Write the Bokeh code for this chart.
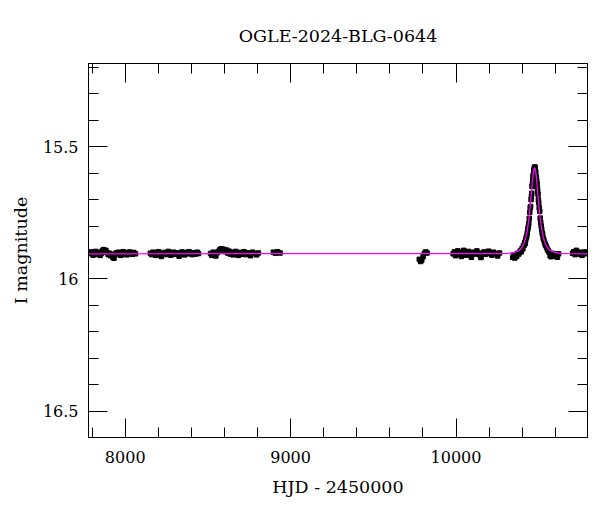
import numpy as np
from bokeh.plotting import figure
from bokeh.models import Range1d, LinearAxis, SingleIntervalTicker, CustomJSTickFormatter
from bokeh.embed import file_html
from bokeh.resources import INLINE

TITLE = "OGLE-2024-BLG-0644"
XLABEL = "HJD - 2450000"
YLABEL = "I magnitude"

# ---- observed photometry, by season (HJD-2450000, I mag) ----
t17 = [7785, 7792, 7799, 7806, 7813, 7820, 7827, 7834, 7841, 7848, 7855, 7862, 7869,
       7876, 7883, 7890, 7897, 7904, 7911, 7918, 7925, 7932, 7939, 7946, 7953, 7960,
       7967, 7974, 7981, 7988, 7995, 8002, 8010, 8018, 8026, 8034, 8043, 8052, 8062]
m17 = [15.902, 15.898, 15.905, 15.910, 15.900, 15.896, 15.907, 15.903, 15.899, 15.911,
       15.904, 15.893, 15.889, 15.897, 15.892, 15.901, 15.908, 15.903, 15.912, 15.906,
       15.918, 15.922, 15.909, 15.902, 15.906, 15.899, 15.904, 15.911, 15.903, 15.897,
       15.905, 15.901, 15.909, 15.904, 15.898, 15.902, 15.907, 15.900, 15.905]

t18 = [8152, 8160, 8168, 8176, 8185, 8193, 8201, 8210, 8218, 8226, 8235, 8243, 8251,
       8260, 8268, 8276, 8285, 8293, 8301, 8310, 8318, 8326, 8335, 8343, 8351, 8360,
       8368, 8377, 8386, 8395, 8405, 8415, 8425, 8435, 8443]
m18 = [15.903, 15.908, 15.899, 15.905, 15.911, 15.902, 15.897, 15.906, 15.915, 15.904,
       15.900, 15.908, 15.902, 15.896, 15.905, 15.910, 15.903, 15.899, 15.907, 15.901,
       15.904, 15.914, 15.906, 15.898, 15.903, 15.909, 15.900, 15.905, 15.897, 15.902,
       15.908, 15.901, 15.906, 15.899, 15.904]

t19 = [8516, 8524, 8532, 8540, 8548, 8556, 8564, 8572, 8580, 8588, 8596, 8604, 8612,
       8620, 8628, 8636, 8644, 8652, 8660, 8668, 8676, 8684, 8692, 8700, 8709, 8718,
       8727, 8737, 8747, 8758, 8770, 8782, 8795, 8805]
m19 = [15.904, 15.911, 15.899, 15.906, 15.913, 15.901, 15.896, 15.890, 15.886, 15.893,
       15.888, 15.897, 15.891, 15.902, 15.895, 15.906, 15.899, 15.909, 15.902, 15.896,
       15.905, 15.911, 15.900, 15.907, 15.903, 15.897, 15.908, 15.901, 15.905, 15.912,
       15.899, 15.904, 15.909, 15.902]

t20 = [8896, 8908, 8921, 8936]
m20 = [15.899, 15.903, 15.897, 15.902]

t22 = [9778, 9786, 9793, 9801, 9809, 9817, 9825]
m22 = [15.926, 15.934, 15.929, 15.916, 15.903, 15.898, 15.902]

t23 = [9983, 9990, 9997, 10004, 10011, 10018, 10025, 10032, 10040, 10047, 10054, 10062,
       10069, 10077, 10085, 10093, 10101, 10109, 10117, 10126, 10134, 10142, 10151, 10160,
       10169, 10178, 10187, 10197, 10207, 10217, 10228, 10240, 10252, 10263]
m23 = [15.905, 15.898, 15.912, 15.901, 15.894, 15.907, 15.903, 15.915, 15.899, 15.892,
       15.905, 15.910, 15.902, 15.896, 15.908, 15.918, 15.903, 15.899, 15.906, 15.894,
       15.902, 15.909, 15.919, 15.904, 15.898, 15.907, 15.901, 15.895, 15.904, 15.910,
       15.899, 15.905, 15.913, 15.902]

t24 = [10343, 10349, 10355, 10361, 10367, 10373, 10379, 10385, 10390, 10395, 10400, 10404,
       10408, 10412, 10416, 10419, 10422, 10425, 10428, 10431, 10434, 10437, 10440, 10443,
       10446, 10449, 10451, 10454, 10456, 10458, 10460, 10462, 10464, 10466, 10468, 10470,
       10472, 10474, 10476, 10478, 10480, 10482, 10484, 10486, 10488, 10490, 10492, 10494,
       10496, 10498, 10500, 10503, 10506, 10509, 10512, 10515, 10518, 10521, 10524, 10527,
       10531, 10535, 10539, 10543, 10548, 10553, 10558, 10563, 10569, 10575, 10581, 10587,
       10593, 10599, 10606, 10613, 10620]
m24 = [15.918, 15.912, 15.921, 15.909, 15.915, 15.903, 15.906, 15.899, 15.893, 15.897,
       15.884, 15.886, 15.874, 15.872, 15.861, 15.866, 15.851, 15.843, 15.838, 15.826,
       15.812, 15.803, 15.790, 15.771, 15.748, 15.730, 15.726, 15.700, 15.688, 15.676,
       15.650, 15.640, 15.626, 15.612, 15.604, 15.590, 15.586, 15.578, 15.583, 15.577,
       15.592, 15.596, 15.612, 15.618, 15.630, 15.641, 15.657, 15.668, 15.680, 15.701,
       15.712, 15.731, 15.744, 15.770, 15.786, 15.800, 15.812, 15.826, 15.832, 15.846,
       15.852, 15.861, 15.869, 15.874, 15.881, 15.889, 15.893, 15.899, 15.912, 15.916,
       15.903, 15.909, 15.914, 15.906, 15.911, 15.918, 15.905]

t25 = [10705, 10712, 10720, 10728, 10736, 10745, 10754, 10762, 10771, 10780, 10790]
m25 = [15.903, 15.897, 15.908, 15.892, 15.901, 15.906, 15.899, 15.911, 15.903, 15.898, 15.905]

mag_err = 0.006

# ---- model curve ----
t_model = [7775, 10275, 10315, 10350, 10365, 10375, 10385, 10393, 10400, 10408, 10415,
           10420, 10425, 10430, 10435, 10439, 10442, 10445, 10447, 10450, 10453, 10455,
           10457, 10460, 10463, 10465, 10467, 10470, 10472, 10475, 10478, 10480, 10483,
           10485, 10487, 10490, 10493, 10495, 10497, 10500, 10503, 10505, 10508, 10511,
           10515, 10520, 10525, 10530, 10535, 10542, 10550, 10557, 10565, 10575, 10585,
           10600, 10635, 10675, 10800]
m_model = [15.905, 15.904, 15.903, 15.900, 15.897, 15.894, 15.890, 15.885, 15.879, 15.870,
           15.858, 15.848, 15.835, 15.819, 15.799, 15.781, 15.765, 15.747, 15.734, 15.714,
           15.693, 15.679, 15.664, 15.643, 15.6225, 15.611, 15.600, 15.588, 15.583, 15.580,
           15.583, 15.588, 15.600, 15.611, 15.6225, 15.643, 15.664, 15.679, 15.693, 15.714,
           15.734, 15.747, 15.765, 15.781, 15.799, 15.819, 15.835, 15.848, 15.858, 15.870,
           15.879, 15.885, 15.890, 15.894, 15.897, 15.900, 15.903, 15.904, 15.905]

t_obs = np.array(t17 + t18 + t19 + t20 + t22 + t23 + t24 + t25, dtype=float)
m_obs = np.array(m17 + m18 + m19 + m20 + m22 + m23 + m24 + m25, dtype=float)

FONT = "DejaVu Serif"

p = figure(width=592, height=504, output_backend="svg", toolbar_location=None,
           x_range=Range1d(7778, 10795), y_range=Range1d(16.6, 15.185),
           min_border_left=88, min_border_right=5, min_border_top=63, min_border_bottom=67,
           background_fill_color="white", border_fill_color="white")
p.grid.visible = False
p.outline_line_color = "black"
p.outline_line_width = 1

p.title.text = TITLE
p.title.align = "center"
p.title.text_font = FONT
p.title.text_font_size = "17.5px"
p.title.text_font_style = "normal"
p.title.text_color = "black"
p.title.standoff = 35

def style_axis(ax, ticker, show_labels):
    ax.ticker = ticker
    ax.major_tick_in = 19
    ax.major_tick_out = 0
    ax.minor_tick_in = 10
    ax.minor_tick_out = 0
    ax.axis_line_color = "black"
    ax.major_tick_line_color = "black"
    ax.minor_tick_line_color = "black"
    ax.major_label_text_font = FONT
    ax.major_label_text_color = "black"
    ax.axis_label_text_font = FONT
    ax.axis_label_text_font_style = "normal"
    ax.axis_label_text_color = "black"
    if show_labels:
        ax.major_label_text_font_size = "16px"
        ax.axis_label_text_font_size = "17.5px"
    else:
        ax.formatter = CustomJSTickFormatter(code="return '';")
        ax.major_label_text_font_size = "1px"
        ax.major_label_standoff = 0

xt = SingleIntervalTicker(interval=1000, num_minor_ticks=5)
yt = SingleIntervalTicker(interval=0.5, num_minor_ticks=5)
yfmt = CustomJSTickFormatter(code="return String(Math.round(tick*10)/10);")

style_axis(p.xaxis[0], xt, True)
p.xaxis[0].axis_label = XLABEL
p.xaxis[0].major_label_standoff = 13
p.xaxis[0].axis_label_standoff = 11

style_axis(p.yaxis[0], yt, True)
p.yaxis[0].axis_label = YLABEL
p.yaxis[0].formatter = yfmt
p.yaxis[0].major_label_standoff = 10
p.yaxis[0].axis_label_standoff = 9

top = LinearAxis()
style_axis(top, SingleIntervalTicker(interval=1000, num_minor_ticks=5), False)
p.add_layout(top, "above")
right = LinearAxis()
style_axis(right, SingleIntervalTicker(interval=0.5, num_minor_ticks=5), False)
p.add_layout(right, "right")

p.segment(x0=t_obs, y0=m_obs - mag_err, x1=t_obs, y1=m_obs + mag_err,
          line_color="black", line_width=1.3)
p.scatter(t_obs, m_obs, marker="square", size=4.5, color="black")
p.line(t_model, m_model, line_color="#ff00ff", line_width=1.3)

open("out.html", "w").write(file_html(p, INLINE))
